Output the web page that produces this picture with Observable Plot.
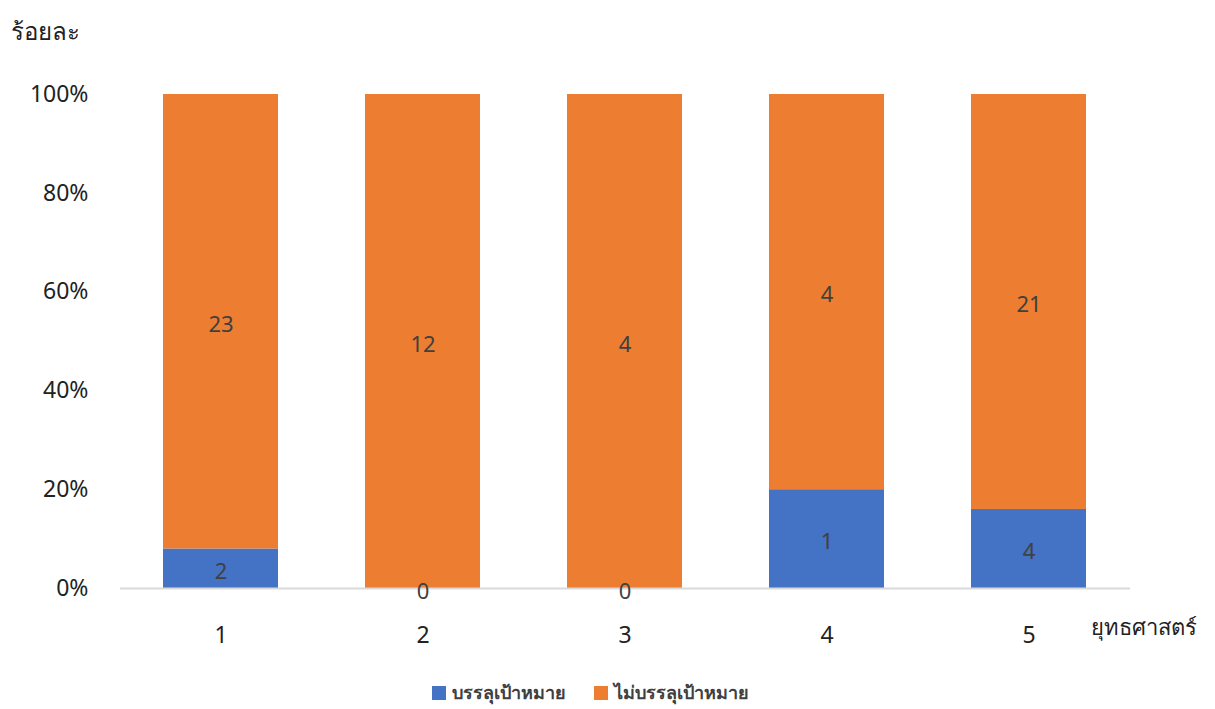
<!DOCTYPE html>
<html>
<head>
<meta charset="utf-8">
<script src="https://cdn.jsdelivr.net/npm/d3@7"></script>
<script src="https://cdn.jsdelivr.net/npm/@observablehq/plot@0.6"></script>
<style>
  html, body { margin: 0; padding: 0; background: #fff; }
  body { width: 1215px; height: 709px; overflow: hidden; font-family: "Noto Sans", "DejaVu Sans", sans-serif; }
  #legend { display: flex; justify-content: center; gap: 28px; font-size: 18px; font-weight: bold; color: #404040; margin-left: -35px; margin-top: 13px; }
  #legend span.item { display: flex; align-items: center; gap: 6px; }
  #legend span.sw { width: 14px; height: 14px; display: inline-block; }
</style>
</head>
<body>
<div id="chart"></div>
<div id="legend"></div>
<script>
const strategies = ["1", "2", "3", "4", "5"];
const achieved = [2, 0, 0, 1, 4];
const notAchieved = [23, 12, 4, 4, 21];
const seriesNames = ["บรรลุเป้าหมาย", "ไม่บรรลุเป้าหมาย"];
const seriesColors = ["#4472C4", "#ED7D31"];
const yTicks = [0, 0.2, 0.4, 0.6, 0.8, 1];

const rows = [];
strategies.forEach((s, i) => {
  rows.push({strategy: s, series: seriesNames[0], value: achieved[i]});
  rows.push({strategy: s, series: seriesNames[1], value: notAchieved[i]});
});

const chart = Plot.plot({
  width: 1215,
  height: 665,
  marginTop: 94,
  marginBottom: 77,
  marginLeft: 120,
  marginRight: 85,
  style: {fontFamily: '"Noto Sans", "DejaVu Sans", sans-serif', fontSize: "23px", color: "#404040", background: "#fff"},
  x: {domain: strategies, paddingInner: 0.43, paddingOuter: 0.215, label: null, tickSize: 0, tickPadding: 38},
  y: {domain: [0, 1], ticks: yTicks, tickFormat: d3.format(".0%"), label: null, tickSize: 0, tickPadding: 32},
  color: {domain: seriesNames, range: seriesColors},
  marks: [
    Plot.barY(rows, Plot.stackY({offset: "normalize", order: seriesNames}, {x: "strategy", y: "value", fill: "series", z: "series"})),
    Plot.ruleY([0], {stroke: "#d9d9d9", strokeWidth: 2}),
    Plot.text(rows, Plot.stackY({offset: "normalize", order: seriesNames}, {x: "strategy", y: "value", z: "series", text: d => String(d.value), fill: "#404040", fontSize: 22, dy: 3})),
    Plot.text(["ร้อยละ"], {frameAnchor: "top-left", dx: -110, dy: -72, textAnchor: "start", fontSize: 24, fill: "#222"}),
    Plot.text(["ยุทธศาสตร์"], {frameAnchor: "bottom-right", dx: -40, dy: 46, textAnchor: "start", fontSize: 22, fill: "#222"})
  ]
});
chart.querySelectorAll("g[aria-label$='axis'] text, g[aria-label$='tick label'] text").forEach(t => t.setAttribute("fill", "#222"));
document.getElementById("chart").appendChild(chart);

const legend = document.getElementById("legend");
seriesNames.forEach((n, i) => {
  const item = document.createElement("span");
  item.className = "item";
  const sw = document.createElement("span");
  sw.className = "sw";
  sw.style.background = seriesColors[i];
  item.appendChild(sw);
  item.appendChild(document.createTextNode(n));
  legend.appendChild(item);
});
</script>
</body>
</html>
